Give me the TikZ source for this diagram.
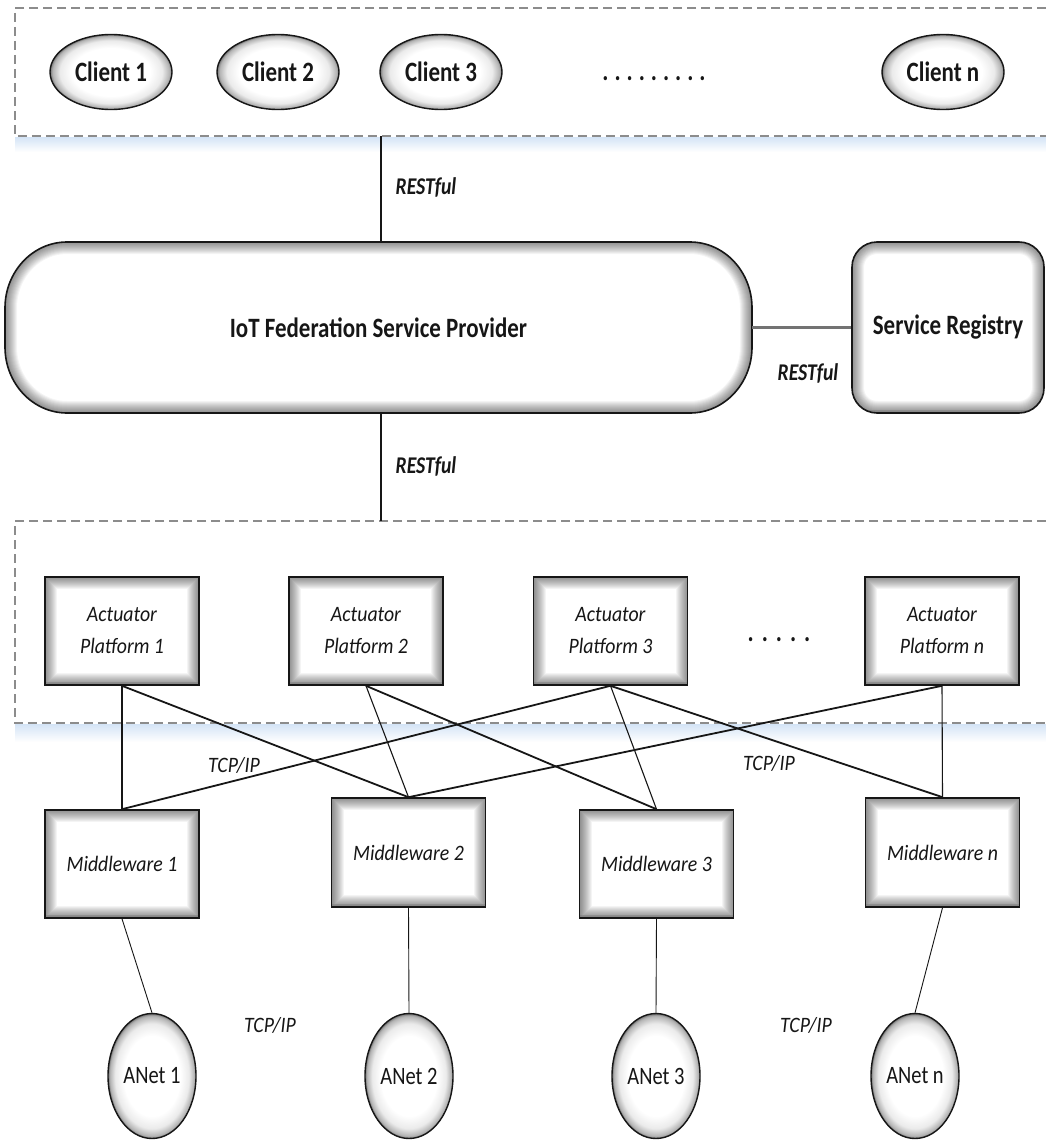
\documentclass[tikz,border=0pt]{standalone}
\usepackage{fontspec}
\newfontfamily\cfont[FakeStretch=0.82]{Carlito}
\newfontfamily\ifont[FakeStretch=0.9]{Carlito}
\usetikzlibrary{shapes.geometric,calc,backgrounds}

% white core that darkens towards the rim of an oval
\pgfdeclareradialshading{edgeglow}{\pgfpoint{0bp}{0bp}}{color(0bp)=(white); color(16bp)=(white); color(21bp)=(black!8); color(24bp)=(black!30); color(25bp)=(black!55); color(50bp)=(black!55)}
\definecolor{haze}{RGB}{212,228,246}
\definecolor{ink}{RGB}{22,22,22}

\tikzset{
  wire/.style={draw=ink, line width=1.1pt},
  crosswire/.style={draw=ink, line width=1.8pt},
  leafwire/.style={draw=ink, line width=0.9pt},
  frame/.style={draw=black!45, line width=1.1pt, dash pattern=on 9pt off 5pt},
  oval/.style={ellipse, draw=ink, line width=1.4pt, shading=edgeglow, inner sep=0pt, text=ink},
  client/.style={oval, minimum width=122pt, minimum height=75pt,
    font=\cfont\bfseries\fontsize{28}{30}\selectfont},
  anet/.style={oval, minimum width=88pt, minimum height=125pt,
    font=\cfont\fontsize{25}{28}\selectfont},
  % soft inner shadow along the border of a box
  glowrect/.style={path picture={
      \foreach \w in {2,4,...,24}{
        \draw[line width=\w pt, black, opacity=0.045, rounded corners=#1]
          (path picture bounding box.south west) rectangle (path picture bounding box.north east);}
      \draw[line width=7pt, black, opacity=0.10]
        (path picture bounding box.south west) -- (path picture bounding box.south east);
  }},
  unit/.style={rectangle, draw=ink, line width=1.6pt, fill=white, glowrect=0pt,
    minimum width=154pt, minimum height=108pt, inner sep=0pt, align=center, text=ink,
    font=\ifont\itshape\fontsize{22}{32}\selectfont},
  bigtext/.style={font=\cfont\bfseries\fontsize{28}{30}\selectfont, text=ink},
  proto/.style={font=\cfont\bfseries\itshape\fontsize{24}{26}\selectfont, text=ink},
  tcp/.style={font=\ifont\itshape\fontsize{22}{24}\selectfont, text=ink},
  % outline of the federation provider: a bar with elliptic corners
  iotshape/.style={insert path={
    ($(iot.north west)+(62,0)$) -- ($(iot.north east)+(-62,0)$)
    arc[start angle=90,end angle=0,x radius=62,y radius=66]
    -- ($(iot.south east)+(0,66)$)
    arc[start angle=0,end angle=-90,x radius=62,y radius=66]
    -- ($(iot.south west)+(62,0)$)
    arc[start angle=270,end angle=180,x radius=62,y radius=66]
    -- ($(iot.north west)+(0,-66)$)
    arc[start angle=180,end angle=90,x radius=62,y radius=66] -- cycle}},
}

\begin{document}
\begin{tikzpicture}[x=1pt,y=1pt]
\useasboundingbox (0,0) rectangle (1046,-1140);
\clip (0,0) rectangle (1046,-1140);
\begin{pgfonlayer}{background}
  \fill[white] (0,0) rectangle (1046,-1140);
\end{pgfonlayer}

% dashed group frames with their pale blue haze
\shade[top color=haze, bottom color=white] (15,-137) rectangle (1046,-152);
\shade[top color=haze, bottom color=white] (15,-724) rectangle (1046,-742);
\draw[frame] (1060,-8) -- (15,-8) -- (15,-136) -- (1060,-136);
\draw[frame] (1060,-521) -- (15,-521) -- (15,-723) -- (1060,-723);

% clients
\node[client] (c1) at (111,-72) {Client 1};
\node[client] (c2) at (278,-72) {Client 2};
\node[client] (c3) at (441,-72) {Client 3};
\node[client] (cn) at (943,-72) {Client n};
\node[bigtext] (cdots) at (654,-79) {.\kern6pt.\kern6pt.\kern6pt.\kern6pt.\kern6pt.\kern6pt.\kern6pt.\kern6pt.};

% federation provider and registry
\node[rectangle, minimum width=747pt, minimum height=171pt, inner sep=0pt, outer sep=0pt, bigtext]
  (iot) at (378.5,-327.5) {IoT Federation Service Provider};
\begin{pgfonlayer}{background}
  \fill[white, iotshape];
  \begin{scope}
    \clip[iotshape];
    \foreach \w in {2,4,...,24}
      \draw[line width=\w pt, black, opacity=0.045, iotshape];
  \end{scope}
  \draw[ink, line width=1.6pt, iotshape];
\end{pgfonlayer}

\node[rectangle, rounded corners=25pt, draw=ink, line width=1.6pt, fill=white, glowrect=25pt,
  minimum width=192pt, minimum height=171pt, bigtext] (sr) at (948,-327.5) {Service Registry};

\coordinate (cbus) at (381,-136);
\coordinate (pbus) at (381,-521);
\draw[wire] (cbus) -- (cbus |- iot.north);
\draw[wire] (iot.south -| pbus) -- (pbus);
\draw[line width=3pt, draw=black!55] (iot.east) -- (sr.west);

\node[proto] (r1) at (426,-187) {RESTful};
\node[proto] (r2) at (808,-373) {RESTful};
\node[proto] (r3) at (426,-466) {RESTful};

% actuator platforms
\node[unit] (a1) at (122,-631) {Actuator\\Platform 1};
\node[unit] (a2) at (366,-631) {Actuator\\Platform 2};
\node[unit] (a3) at (610.5,-631) {Actuator\\Platform 3};
\node[unit] (an) at (942,-631) {Actuator\\Platform n};
\node[bigtext] (adots) at (779,-640) {.\kern8pt.\kern8pt.\kern8pt.\kern8pt.};

% middleware
\node[unit] (m1) at (122,-864) {Middleware 1};
\node[unit, minimum height=109pt] (m2) at (408.5,-852.5) {Middleware 2};
\node[unit] (m3) at (656.5,-864) {Middleware 3};
\node[unit, minimum height=109pt] (mn) at (942.5,-852.5) {Middleware n};

% actuator networks
\node[anet] (n1) at (152,-1076) {ANet 1};
\node[anet] (n2) at (409,-1076) {ANet 2};
\node[anet] (n3) at (656,-1076) {ANet 3};
\node[anet] (nn) at (915,-1076) {ANet n};

% platform to middleware links
\draw[wire] (a1.south) -- (m1.north);
\draw[crosswire] (a1.south) -- (m2.north);
\draw[wire] (a2.south) -- (m2.north);
\draw[crosswire] (a2.south) -- (m3.north);
\draw[crosswire] (a3.south) -- (m1.north);
\draw[wire] (a3.south) -- (m3.north);
\draw[crosswire] (a3.south) -- (mn.north);
\draw[crosswire] (an.south) -- (m2.north);
\draw[wire] (an.south) -- (mn.north);

% middleware to network links
\draw[leafwire] (m1.south) -- (n1.north);
\draw[leafwire] (m2.south) -- (n2.north);
\draw[leafwire] (m3.south) -- (n3.north);
\draw[leafwire] (mn.south) -- (nn.north);

\node[tcp] (t1) at (234,-765) {TCP/IP};
\node[tcp] (t2) at (769,-763) {TCP/IP};
\node[tcp] (t3) at (270,-1025) {TCP/IP};
\node[tcp] (t4) at (806,-1025) {TCP/IP};
\end{tikzpicture}
\end{document}
